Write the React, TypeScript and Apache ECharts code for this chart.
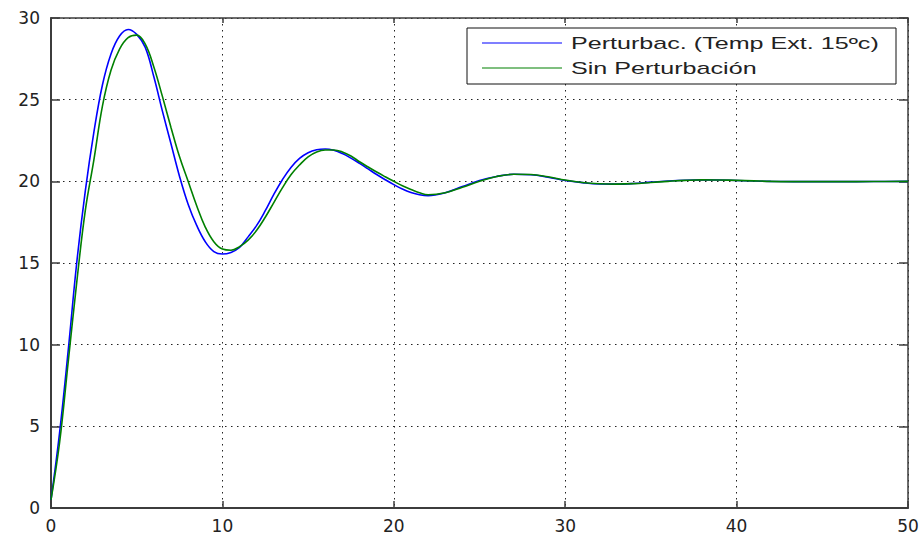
import React, { useEffect, useRef } from "react";
import * as echarts from "echarts";

const seriesNames = ["Perturbac. (Temp Ext. 15ºc)", "Sin Perturbación"];
const xTicks = [0, 10, 20, 30, 40, 50];
const yTicks = [0, 5, 10, 15, 20, 25, 30];

const time = [
  0, 0.5, 1, 1.5, 2, 2.5, 3, 3.5, 4, 4.5, 5, 5.5, 6, 6.5, 7, 7.5, 8, 8.5, 9, 9.5,
  10, 10.5, 11, 11.5, 12, 12.5, 13, 13.5, 14, 14.5, 15, 15.5, 16, 16.5, 17, 17.5,
  18, 18.5, 19, 19.5, 20, 20.5, 21, 21.5, 22, 23, 24, 25, 26, 27, 28, 29, 30, 31,
  32, 33, 34, 35, 36, 37, 38, 39, 40, 41, 42, 44, 46, 48, 50,
];

const perturbac = [
  0.5, 4.6, 9.6, 15.0, 19.4, 23.0, 25.9, 27.8, 28.9, 29.3, 29.0, 28.2, 26.4, 24.3,
  22.3, 20.3, 18.6, 17.3, 16.3, 15.7, 15.55, 15.65, 15.95, 16.6, 17.3, 18.2, 19.2,
  20.1, 20.85, 21.4, 21.75, 21.93, 21.98, 21.9, 21.7, 21.42, 21.1, 20.76, 20.42,
  20.1, 19.8, 19.53, 19.32, 19.18, 19.12, 19.3, 19.68, 20.05, 20.3, 20.43, 20.4,
  20.25, 20.05, 19.92, 19.84, 19.83, 19.87, 19.95, 20.02, 20.07, 20.09, 20.08,
  20.05, 20.02, 20.0, 19.98, 19.98, 19.99, 20.0,
];

const sinPerturbacion = [
  0.5, 4.0, 8.9, 13.8, 18.2, 21.3, 24.6, 26.8, 28.1, 28.8, 28.95, 28.4, 27.0, 25.2,
  23.3, 21.5, 20.0, 18.5, 17.2, 16.3, 15.85, 15.78, 16.0, 16.4, 17.0, 17.8, 18.7,
  19.6, 20.4, 21.0, 21.5, 21.8, 21.92, 21.92, 21.8, 21.55, 21.2, 20.88, 20.57,
  20.28, 20.0, 19.73, 19.5, 19.3, 19.18, 19.3, 19.64, 20.0, 20.3, 20.43, 20.42,
  20.28, 20.08, 19.93, 19.85, 19.83, 19.86, 19.93, 20.0, 20.06, 20.09, 20.08,
  20.06, 20.03, 20.0, 19.98, 19.98, 19.99, 20.0,
];

const seriesColors = ["#0000ff", "#008000"];

export default function App() {
  const ref = useRef<HTMLDivElement>(null);

  useEffect(() => {
    document.body.style.margin = "0";
    if (!ref.current) return;
    const chart = echarts.init(ref.current, undefined, { renderer: "svg" });
    const axisColor = "#3c3c3c";
    const labelStyle = { fontFamily: "DejaVu Sans", fontSize: 17, color: "#222" };
    const gridLine = { show: true, lineStyle: { color: "#222", width: 1, type: [1.5, 4.5] as any } };
    const legendX = 467;
    const legendY = 28;
    const textScale = 1.57;

    chart.setOption({
      animation: false,
      backgroundColor: "#ffffff",
      grid: { left: 51, right: 15, top: 18, bottom: 26, show: false },
      xAxis: [
        {
          type: "value",
          min: xTicks[0],
          max: xTicks[xTicks.length - 1],
          interval: 10,
          axisLine: { show: true, onZero: false, lineStyle: { color: axisColor, width: 2 } },
          axisTick: { show: true, inside: true, length: 7, lineStyle: { color: axisColor, width: 1.5 } },
          axisLabel: { ...labelStyle, margin: 9 },
          splitLine: gridLine,
        },
        {
          type: "value",
          position: "top",
          min: xTicks[0],
          max: xTicks[xTicks.length - 1],
          interval: 10,
          axisLine: { show: true, onZero: false, lineStyle: { color: axisColor, width: 1.5 } },
          axisTick: { show: true, inside: true, length: 5, lineStyle: { color: axisColor, width: 1.5 } },
          axisLabel: { show: false },
          splitLine: { show: false },
        },
      ],
      yAxis: [
        {
          type: "value",
          min: yTicks[0],
          max: yTicks[yTicks.length - 1],
          interval: 5,
          axisLine: { show: true, onZero: false, lineStyle: { color: axisColor, width: 2 } },
          axisTick: { show: true, inside: true, length: 9, lineStyle: { color: axisColor, width: 1.5 } },
          axisLabel: { ...labelStyle, margin: 11 },
          splitLine: gridLine,
        },
        {
          type: "value",
          position: "right",
          min: yTicks[0],
          max: yTicks[yTicks.length - 1],
          interval: 5,
          axisLine: { show: true, onZero: false, lineStyle: { color: axisColor, width: 1.5 } },
          axisTick: { show: true, inside: true, length: 9, lineStyle: { color: axisColor, width: 1.5 } },
          axisLabel: { show: false },
          splitLine: { show: false },
        },
      ],
      series: [
        {
          name: seriesNames[0],
          type: "line",
          smooth: 0.4,
          showSymbol: false,
          data: time.map((t, i) => [t, perturbac[i]]),
          lineStyle: { color: seriesColors[0], width: 1.6 },
          itemStyle: { color: seriesColors[0] },
          z: 3,
        },
        {
          name: seriesNames[1],
          type: "line",
          smooth: 0.4,
          showSymbol: false,
          data: time.map((t, i) => [t, sinPerturbacion[i]]),
          lineStyle: { color: seriesColors[1], width: 1.6 },
          itemStyle: { color: seriesColors[1] },
          z: 4,
        },
      ],
      graphic: [
        {
          type: "rect",
          z: 100,
          shape: { x: legendX, y: legendY, width: 429, height: 56 },
          style: { fill: "#ffffff", stroke: "#111", lineWidth: 1 },
        },
        {
          type: "line",
          z: 101,
          shape: { x1: legendX + 15, y1: legendY + 15, x2: legendX + 95, y2: legendY + 15 },
          style: { stroke: seriesColors[0], lineWidth: 1.2 },
        },
        {
          type: "line",
          z: 101,
          shape: { x1: legendX + 15, y1: legendY + 40, x2: legendX + 95, y2: legendY + 40 },
          style: { stroke: seriesColors[1], lineWidth: 1.2 },
        },
        {
          type: "text",
          z: 101,
          x: legendX + 104,
          y: legendY + 15,
          scaleX: textScale,
          style: {
            text: seriesNames[0],
            fontFamily: "Liberation Sans",
            fontSize: 16,
            fill: "#222",
            verticalAlign: "middle",
            align: "left",
          },
        },
        {
          type: "text",
          z: 101,
          x: legendX + 104,
          y: legendY + 40,
          scaleX: textScale,
          style: {
            text: seriesNames[1],
            fontFamily: "Liberation Sans",
            fontSize: 16,
            fill: "#222",
            verticalAlign: "middle",
            align: "left",
          },
        },
      ],
    });
    return () => chart.dispose();
  }, []);

  return <div ref={ref} style={{ width: 923, height: 534 }} />;
}
